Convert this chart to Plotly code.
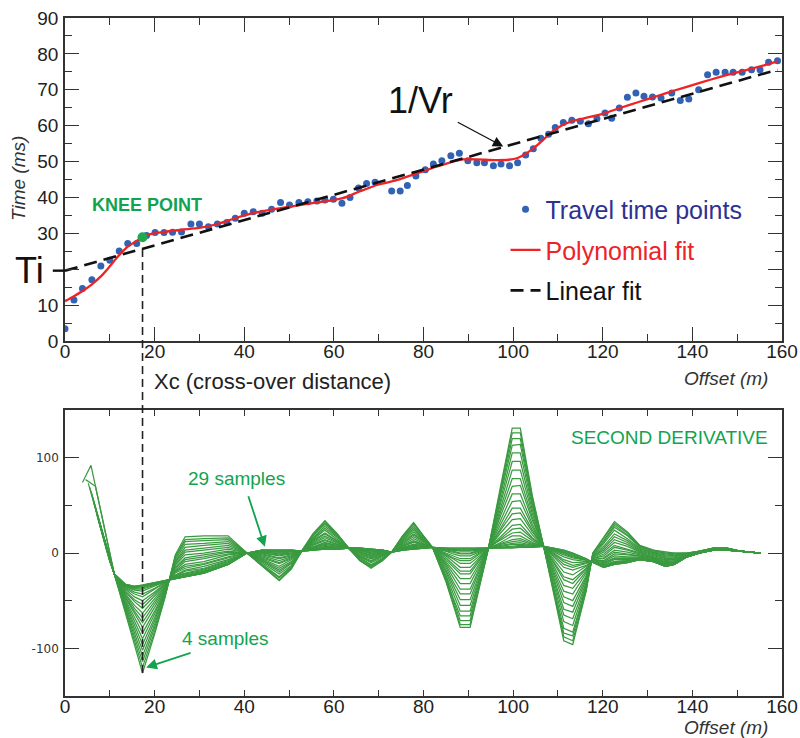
import plotly.graph_objects as go

FONT = "Liberation Sans, Arial, Helvetica, sans-serif"

# ---------------- top panel data ----------------
TT_X = [0, 2.0, 3.9, 6.0, 8.0, 10.0, 12.1, 14.0, 16.0, 18.2, 20.1, 22.1, 24.0, 26.0, 28.1, 30.0, 32.0, 34.0, 36.1, 38.0,
        40.0, 42.0, 44.0, 46.1, 48.1, 50.1, 52.2, 54.2, 56.2, 58.0, 59.9, 61.8, 63.6, 65.5, 67.3, 69.2, 72.9, 74.8, 76.4, 78.3,
        80.4, 82.2, 84.1, 86.1, 88.0, 89.9, 91.9, 93.6, 95.6, 97.3, 99.2, 101.0, 102.8, 104.5, 106.2, 107.9, 109.4, 111.2, 113.1, 115.0,
        116.8, 118.7, 120.5, 122.0, 123.7, 125.5, 127.4, 129.2, 131.1, 133.0, 135.4, 137.3, 139.2, 141.4, 143.4, 145.3, 147.3, 149.1, 151.1, 153.2,
        155.1, 157.0, 159.0]
TT_T = [3.4, 11.4, 14.6, 17.1, 20.9, 22.5, 25.1, 27.2, 27.2, 29.4, 30.2, 30.2, 30.3, 30.4, 32.6, 32.6, 31.8, 32.6, 33.0, 34.2,
        35.6, 36.0, 35.6, 36.7, 38.6, 37.9, 38.6, 38.8, 39.0, 39.3, 39.5, 38.4, 40.0, 42.6, 43.9, 44.2, 41.8, 41.8, 43.3, 46.0,
        47.7, 49.3, 50.2, 51.6, 52.3, 50.2, 49.7, 49.7, 48.8, 49.3, 48.8, 49.7, 51.8, 53.6, 56.5, 57.6, 59.5, 60.9, 61.5, 61.2,
        60.5, 61.9, 63.5, 62.1, 64.9, 67.9, 69.1, 68.2, 68.0, 67.7, 69.1, 67.0, 67.4, 70.0, 74.2, 74.9, 74.9, 74.9, 74.9, 75.6,
        75.6, 77.7, 78.1]

POLY_X = [0, 2, 4, 6, 8, 10, 12, 14, 16, 17.3, 19, 22, 26, 30, 34, 38, 42, 46, 50, 54,
          58, 62, 66, 70, 74, 78, 82, 86, 89, 92, 96, 99, 101, 103, 105, 107, 109, 111, 113, 116,
          120, 124, 128, 132, 136, 140, 144, 148, 152, 156, 159]
POLY_T = [11.1, 12.5, 14.0, 15.8, 18.0, 20.8, 23.8, 26.3, 27.9, 28.9, 29.8, 30.4, 31.0, 31.5, 32.6, 34.2, 35.6, 36.6, 37.4, 38.2,
          38.9, 39.8, 41.8, 43.6, 44.8, 46.5, 48.2, 49.8, 50.6, 50.6, 50.4, 50.5, 51.0, 52.3, 54.2, 56.4, 58.6, 60.1, 61.2, 62.1,
          63.3, 65.0, 66.6, 68.2, 69.8, 71.3, 72.8, 74.2, 75.5, 76.8, 77.9]

LIN_X = [0, 159]
LIN_T = [19.6, 75.6]

KNEE_X = 17.3
KNEE_T = 28.9
KNEE_LIN_T = 25.7
KNEE_D2 = -126

Y1_TICKS = [0, 10, 20, 30, 40, 50, 60, 70, 80, 90]
Y1_TICKTEXT = ["0", "10", "", "30", "40", "50", "60", "70", "80", "90"]

# ---------------- bottom panel data (second derivative, 4..29 samples) ----------------
SAMPLES = [4, 5, 6, 7, 8, 9, 10, 11, 12, 13, 14, 15, 16, 17, 18, 19, 20, 21, 22, 23, 24, 25, 26, 27, 28, 29]

HEAD_X = [[3.9, 5.8], [4.6, 6.8], [5.2], [5.5], [5.8], [6.0], [6.2], [6.4], [6.6], [6.8], [7.0], [7.2], [7.4],
          [7.6], [7.8], [8.0], [8.2], [8.4], [8.6], [8.8], [9.0], [9.2], [9.4], [9.6], [9.8], [10.0]]
HEAD_V = [[74, 92], [77, 70], [73], [69], [65], [61], [57], [53], [50], [46], [42], [39], [35],
          [32], [28], [25], [21], [18], [14], [11], [7], [4], [1], [-3], [-6], [-9]]

NODE_X = [11.0, 13.5, 15.5, 17.3, 20.0, 22.3, 24.6, 26.8, 31.0, 36.4,
          40.6, 44.0, 47.8, 50.5, 52.8, 55.3, 58.0, 60.8, 63.3, 65.8,
          68.3, 70.8, 72.9, 75.3, 77.8, 80.0, 82.0, 85.0, 86.6, 88.2,
          90.4, 92.5, 94.5, 97.2, 99.8, 101.6, 104.3, 106.8, 109.2, 111.3,
          113.3, 116.3, 117.8, 120.2, 122.6, 125.5, 128.3, 131.3, 134.0, 136.0,
          138.8, 141.7, 144.7, 147.7, 150.7, 155.3]

# one entry per node: a single value shared by all curves, or one value per curve (4 -> 29 samples)
NODE_V = [
    -22,
    [-63, -61, -59, -57, -55, -53, -51, -49, -47, -46, -44, -43, -41, -40, -38, -37, -36, -35, -35, -34, -34, -34, -33, -33, -33, -33],
    [-96, -92, -88, -84, -80, -76, -72, -68, -64, -61, -58, -55, -51, -49, -46, -43, -41, -39, -38, -37, -36, -36, -36, -35, -35, -35],
    [-126, -120, -114, -108, -102, -96, -90, -84, -78, -73, -68, -63, -58, -54, -50, -46, -43, -40, -38, -36.5, -35.5, -35, -34.5, -34, -34, -33.5],
    [-85, -82, -78, -75, -71, -68, -64, -61, -57, -54, -51, -48, -45, -43, -41, -38, -37, -35, -34, -33, -32, -32, -32, -31, -31, -31],
    [-47, -46, -45, -44, -42, -41, -40, -39, -38, -37, -36, -35, -34, -33, -32, -31, -31, -30, -30, -30, -29, -29, -29, -29, -29, -29],
    [-2, -4, -5, -7, -9, -10, -12, -13, -15, -16, -18, -19, -20, -21, -23, -24, -24, -25, -26, -26, -26, -27, -27, -27, -27, -27],
    [17, 14, 12, 9, 6, 3, 1, -2, -5, -7, -9, -12, -14, -16, -18, -19, -21, -22, -23, -24, -24, -24, -25, -25, -25, -25],
    [18, 15, 13, 10, 8, 5, 3, 0, -2, -4, -6, -9, -11, -12, -14, -16, -17, -18, -19, -20, -20, -20, -21, -21, -21, -21],
    [18, 16, 14, 12, 10, 8, 6, 4, 2, 1, -1, -2, -4, -5, -7, -8, -9, -10, -11, -11, -11, -12, -12, -12, -12, -12],
    0,
    [-14, -13, -13, -12, -10, -9, -8, -7, -6, -5, -4, -3, -2, -1, 0, 0, 1, 1, 2, 2, 2, 3, 3, 3, 3, 3],
    [-29, -28, -26, -25, -22, -20, -18, -16, -14, -11, -10, -8, -6, -5, -3, -2, -1, 0, 1, 1, 2, 2, 2, 3, 3, 3],
    [-17, -16, -15, -14, -13, -11, -10, -9, -7, -6, -5, -4, -3, -2, -1, 0, 0, 1, 2, 2, 2, 2, 3, 3, 3, 3],
    2,
    [20, 19, 18, 18, 16, 15, 14, 13, 12, 11, 10, 9, 8, 7, 6, 6, 5, 5, 4, 4, 4, 3, 3, 3, 3, 3],
    [34, 33, 31, 30, 28, 26, 24, 21, 20, 18, 16, 14, 13, 11, 10, 9, 8, 7, 6, 6, 5, 5, 5, 4, 4, 4],
    [20, 19, 19, 18, 17, 16, 14, 13, 12, 11, 10, 9, 9, 8, 7, 7, 6, 6, 5, 5, 5, 4, 4, 4, 4, 4],
    5,
    [-8, -8, -7, -6, -5, -4, -4, -3, -2, -1, 0, 1, 1, 2, 3, 3, 3, 4, 4, 4, 5, 5, 5, 5, 5, 5],
    [-16, -15, -14, -13, -12, -10, -9, -8, -6, -5, -4, -3, -2, -1, 0, 1, 1, 2, 3, 3, 3, 3, 4, 4, 4, 4],
    [-8, -8, -7, -7, -6, -5, -4, -3, -3, -2, -1, -1, 0, 0, 1, 1, 2, 2, 2, 2, 3, 3, 3, 3, 3, 3],
    1,
    [18, 17, 17, 16, 15, 14, 13, 12, 11, 10, 9, 8, 7, 7, 6, 5, 5, 5, 4, 4, 4, 3, 3, 3, 3, 3],
    [32, 31, 30, 28, 26, 24, 22, 20, 19, 17, 15, 13, 12, 11, 9, 9, 8, 7, 6, 6, 5, 5, 5, 4, 4, 4],
    [18, 18, 17, 16, 15, 14, 14, 13, 12, 11, 10, 9, 9, 8, 8, 7, 7, 6, 6, 6, 6, 5, 5, 5, 5, 5],
    6,
    [-30, -29, -27, -25, -23, -20, -18, -15, -13, -11, -9, -7, -5, -3, -2, -1, 0, 2, 2, 3, 4, 4, 4, 5, 5, 5],
    [-55, -53, -50, -47, -42, -38, -34, -30, -26, -22, -18, -15, -12, -9, -6, -5, -3, -1, 1, 2, 3, 3, 4, 4, 5, 5],
    [-78, -75, -71, -66, -61, -55, -49, -43, -38, -32, -27, -22, -19, -15, -11, -8, -6, -3, -1, 0, 2, 3, 3, 4, 5, 5],
    [-78, -75, -71, -66, -61, -55, -49, -43, -38, -32, -27, -22, -19, -15, -11, -8, -6, -3, -1, 0, 2, 3, 3, 4, 5, 5],
    [-35, -33, -31, -29, -27, -24, -21, -18, -16, -13, -11, -8, -7, -5, -3, -1, 0, 1, 2, 3, 3, 4, 4, 5, 5, 5],
    5,
    [70, 67, 64, 61, 56, 52, 47, 43, 39, 34, 30, 26, 24, 21, 17, 15, 13, 11, 10, 9, 8, 7, 6, 6, 5, 5],
    [131, 126, 120, 113, 105, 96, 87, 78, 70, 62, 54, 47, 41, 35, 29, 25, 21, 18, 14, 12, 10, 9, 7, 6, 6, 5],
    [131, 126, 120, 114, 105, 96, 87, 78, 71, 62, 55, 47, 42, 36, 30, 26, 22, 18, 15, 13, 11, 9, 8, 7, 7, 6],
    [60, 58, 55, 52, 49, 45, 41, 37, 34, 30, 27, 24, 22, 19, 16, 15, 13, 11, 10, 9, 8, 8, 7, 7, 6, 6],
    7,
    [-45, -43, -41, -38, -35, -31, -28, -24, -21, -18, -15, -12, -10, -7, -5, -3, -2, 0, 1, 2, 3, 4, 4, 5, 5, 5],
    [-92, -88, -84, -79, -72, -65, -59, -52, -46, -40, -34, -28, -25, -20, -15, -12, -9, -7, -4, -2, -1, 0, 1, 2, 3, 3],
    [-96, -92, -87, -83, -76, -69, -62, -56, -50, -43, -37, -32, -28, -23, -18, -15, -13, -10, -7, -5, -4, -3, -2, -1, 0, 0],
    [-40, -39, -37, -35, -33, -31, -28, -26, -24, -21, -19, -17, -16, -14, -13, -11, -10, -9, -9, -8, -7, -7, -7, -6, -6, -6],
    [0, 0, -1, -1, -2, -3, -4, -4, -5, -6, -6, -7, -7, -8, -8, -8, -9, -9, -9, -9, -10, -10, -10, -10, -10, -10],
    [16, 15, 13, 12, 10, 7, 5, 3, 1, -1, -3, -5, -6, -8, -9, -10, -11, -12, -13, -13, -14, -14, -14, -15, -15, -15],
    [33, 31, 29, 27, 24, 20, 17, 14, 11, 8, 6, 3, 1, -1, -3, -5, -6, -7, -9, -9, -10, -11, -11, -12, -12, -12],
    [22, 21, 19, 18, 15, 13, 11, 9, 7, 4, 3, 1, -1, -2, -4, -5, -6, -7, -8, -8, -9, -9, -9, -10, -10, -10],
    [8, 7, 7, 6, 5, 4, 3, 2, 1, 0, -1, -2, -3, -3, -4, -5, -5, -5, -6, -6, -6, -7, -7, -7, -7, -7],
    [3, 3, 2, 1, 0, 0, -1, -2, -3, -4, -4, -5, -5, -6, -7, -7, -7, -8, -8, -8, -8, -9, -9, -9, -9, -9],
    [1, 0, 0, -1, -2, -3, -4, -5, -6, -7, -8, -9, -10, -10, -11, -12, -12, -12, -13, -13, -13, -14, -14, -14, -14, -14],
    [0, 0, -1, -2, -3, -3, -4, -5, -6, -7, -7, -8, -9, -9, -10, -10, -10, -11, -11, -11, -12, -12, -12, -12, -12, -12],
    [0, 0, 0, -1, -1, -1, -1, -2, -2, -2, -2, -3, -3, -3, -3, -3, -4, -4, -4, -4, -4, -4, -4, -4, -4, -4],
    [2, 2, 2, 2, 2, 1, 1, 1, 1, 1, 1, 1, 1, 0, 0, 0, 0, 0, 0, 0, 0, 0, 0, 0, 0, 0],
    [5, 5, 5, 5, 5, 4, 4, 4, 4, 4, 4, 4, 4, 3, 3, 3, 3, 3, 3, 3, 3, 3, 3, 3, 3, 3],
    [5, 5, 5, 5, 5, 4, 4, 4, 4, 4, 4, 4, 4, 3, 3, 3, 3, 3, 3, 3, 3, 3, 3, 3, 3, 3],
    2,
    0,
]

assert len(NODE_X) == len(NODE_V), (len(NODE_X), len(NODE_V))
for j, col in enumerate(NODE_V):
    if isinstance(col, list):
        assert len(col) == len(SAMPLES), ("bad column", j, NODE_X[j], len(col))

# ---------------- colours ----------------
BLUE_DOT = "#3162b4"
NAVY = "#2e3192"
RED = "#ee2326"
GREEN_LINE = "#3a9a40"
GREEN_TXT = "#12a34f"
AXIS = "#333333"

# ---------------- layout geometry ----------------
FIG_W, FIG_H = 800, 738
TOP_DOM = [0.5236, 1.0]
BOT_DOM = [0.0, 0.4218]
Y1_RANGE = [0, 90]
Y2_RANGE = [-150, 150]


def paper_y_top(v):
    return TOP_DOM[0] + (v - Y1_RANGE[0]) / (Y1_RANGE[1] - Y1_RANGE[0]) * (TOP_DOM[1] - TOP_DOM[0])


def paper_y_bot(v):
    return BOT_DOM[0] + (v - Y2_RANGE[0]) / (Y2_RANGE[1] - Y2_RANGE[0]) * (BOT_DOM[1] - BOT_DOM[0])


fig = go.Figure()

# bottom panel curves
for k in range(len(SAMPLES)):
    xs = list(HEAD_X[k]) + NODE_X
    vs = list(HEAD_V[k]) + [c if not isinstance(c, list) else c[k] for c in NODE_V]
    fig.add_trace(go.Scatter(x=xs, y=vs, mode="lines", xaxis="x2", yaxis="y2",
                             line=dict(color=GREEN_LINE, width=1.25), showlegend=False,
                             hoverinfo="skip", name=f"{SAMPLES[k]} samples"))

# top panel
fig.add_trace(go.Scatter(x=TT_X, y=TT_T, mode="markers",
                         marker=dict(color=BLUE_DOT, size=7),
                         name=f'<span style="color:{NAVY}">Travel time points</span>',
                         legendgroup="a"))
fig.add_trace(go.Scatter(x=POLY_X, y=POLY_T, mode="lines",
                         line=dict(color=RED, width=2.3, shape="spline", smoothing=0.8),
                         name=f'<span style="color:{RED}">Polynomial fit</span>',
                         legendgroup="b"))
fig.add_trace(go.Scatter(x=LIN_X, y=LIN_T, mode="lines",
                         line=dict(color="#111111", width=2.6, dash="13px,7px"),
                         name='<span style="color:#111111">Linear fit</span>',
                         legendgroup="c"))
fig.add_trace(go.Scatter(x=[KNEE_X], y=[KNEE_T], mode="markers",
                         marker=dict(color="#1fa84f", size=10), showlegend=False))

axis_common = dict(showgrid=False, zeroline=False, showline=True, linecolor=AXIS, linewidth=1.5,
                   mirror="ticks", ticks="inside", tickcolor=AXIS, tickwidth=1.3, automargin=False,
                   ticklabeloverflow="allow",
                   tickfont=dict(family=FONT, size=19, color="#222222"))

fig.update_layout(
    width=FIG_W, height=FIG_H,
    margin=dict(l=65, r=18, t=18, b=42, autoexpand=False),
    paper_bgcolor="white", plot_bgcolor="white",
    font=dict(family=FONT, color="#222222"),
    xaxis=dict(axis_common, domain=[0, 1], anchor="y", range=[0, 160], dtick=20, tick0=0, ticklen=14,
               ticklabelstandoff=-8,
               minor=dict(dtick=10, ticklen=7, ticks="inside", tickcolor=AXIS)),
    yaxis=dict(axis_common, domain=TOP_DOM, anchor="x", range=Y1_RANGE,
               tickvals=Y1_TICKS, ticktext=Y1_TICKTEXT, ticklen=14,
               ticklabelstandoff=1,
               minor=dict(dtick=5, ticklen=7, ticks="inside", tickcolor=AXIS)),
    xaxis2=dict(axis_common, domain=[0, 1], anchor="y2", range=[0, 160], dtick=20, tick0=0, ticklen=6,
                ticklabelstandoff=-8,
                minor=dict(dtick=10, ticklen=6, ticks="inside", tickcolor=AXIS)),
    yaxis2=dict(axis_common, domain=BOT_DOM, anchor="x2", range=Y2_RANGE,
                tickvals=[-100, 0, 100], ticktext=["-100", "0", "100"], ticklen=14,
                ticklabelstandoff=2,
                tickfont=dict(family="DejaVu Sans, sans-serif", size=12, color="#333333"),
                minor=dict(tickvals=[-50, 50], ticklen=7, ticks="inside", tickcolor=AXIS)),
    legend=dict(x=0.6144, y=0.7513, xanchor="left", yanchor="top", bgcolor="rgba(0,0,0,0)",
                font=dict(family=FONT, size=25), traceorder="grouped", tracegroupgap=5,
                itemwidth=30),
    showlegend=True,
)

ann = []
ann.append(dict(text="<i>Time (ms)</i>", xref="paper", yref="paper", x=-0.0656, y=0.764,
                textangle=-90, showarrow=False, font=dict(size=19, color="#333333", family=FONT),
                xanchor="center", yanchor="middle"))
ann.append(dict(text="<i>Offset (m)</i>", xref="paper", yref="paper", x=0.983, y=0.4676,
                showarrow=False, font=dict(size=19, color="#333333", family=FONT),
                xanchor="right", yanchor="middle"))
ann.append(dict(text="<i>Offset (m)</i>", xref="paper", yref="paper", x=0.983, y=-0.046,
                showarrow=False, font=dict(size=19, color="#333333", family=FONT),
                xanchor="right", yanchor="middle"))
ann.append(dict(text="Ti", xref="paper", yref="y", x=-0.049, y=LIN_T[0], showarrow=False,
                font=dict(size=36, color="#111111", family=FONT), xanchor="center", yanchor="middle"))
ann.append(dict(text="1/Vr", xref="paper", yref="paper", x=0.4965, y=0.8776, showarrow=False,
                font=dict(size=36, color="#111111", family=FONT), xanchor="center", yanchor="middle"))
ann.append(dict(text="", xref="x", yref="y", x=97.8, y=54.2, ax=-47, ay=-25, showarrow=True,
                arrowhead=2, arrowsize=1.6, arrowwidth=1.3, arrowcolor="#111111", standoff=0))
ann.append(dict(text="<b>KNEE POINT</b>", xref="paper", yref="paper", x=0.115, y=0.7242,
                showarrow=False, font=dict(size=18, color=GREEN_TXT, family=FONT),
                xanchor="center", yanchor="middle"))
ann.append(dict(text="Xc (cross-over distance)", xref="paper", yref="paper", x=0.1213, y=0.4646,
                showarrow=False, font=dict(size=22, color="#222222", family=FONT),
                xanchor="left", yanchor="middle"))
ann.append(dict(text="SECOND DERIVATIVE", xref="paper", yref="paper", x=0.983, y=0.382,
                showarrow=False, font=dict(size=19, color=GREEN_TXT, family=FONT),
                xanchor="right", yanchor="middle"))
ann.append(dict(text="29 samples", xref="paper", yref="paper", x=0.2392, y=0.3201,
                showarrow=False, font=dict(size=19, color=GREEN_TXT, family=FONT),
                xanchor="center", yanchor="middle"))
ann.append(dict(text="", xref="x2", yref="y2", x=44.6, y=6.6, ax=-17, ay=-52, showarrow=True,
                arrowhead=2, arrowsize=1.2, arrowwidth=1.8, arrowcolor=GREEN_TXT, standoff=0))
ann.append(dict(text="4 samples", xref="paper", yref="paper", x=0.2232, y=0.0855,
                showarrow=False, font=dict(size=19, color=GREEN_TXT, family=FONT),
                xanchor="center", yanchor="middle"))
ann.append(dict(text="", xref="x2", yref="y2", x=18.1, y=-120, ax=46, ay=-15, showarrow=True,
                arrowhead=2, arrowsize=1.2, arrowwidth=1.8, arrowcolor=GREEN_TXT, standoff=0))
fig.update_layout(annotations=ann)

shapes = [
    dict(type="line", xref="x", yref="paper", x0=KNEE_X, x1=KNEE_X,
         y0=paper_y_bot(KNEE_D2), y1=paper_y_top(KNEE_LIN_T),
         line=dict(color="#222222", width=1.6, dash="8px,5px"), layer="above"),
    dict(type="line", xref="paper", yref="y", x0=-0.017, x1=0.0, y0=LIN_T[0], y1=LIN_T[0],
         line=dict(color="#111111", width=2.4)),
]
fig.update_layout(shapes=shapes)

# remove the browser's default 8px page margin so the 800x738 figure fills the window exactly
fig.write_html("out.html",
               config={"displayModeBar": False},
               post_script="document.body.style.margin='0px';document.body.style.overflow='hidden';")
